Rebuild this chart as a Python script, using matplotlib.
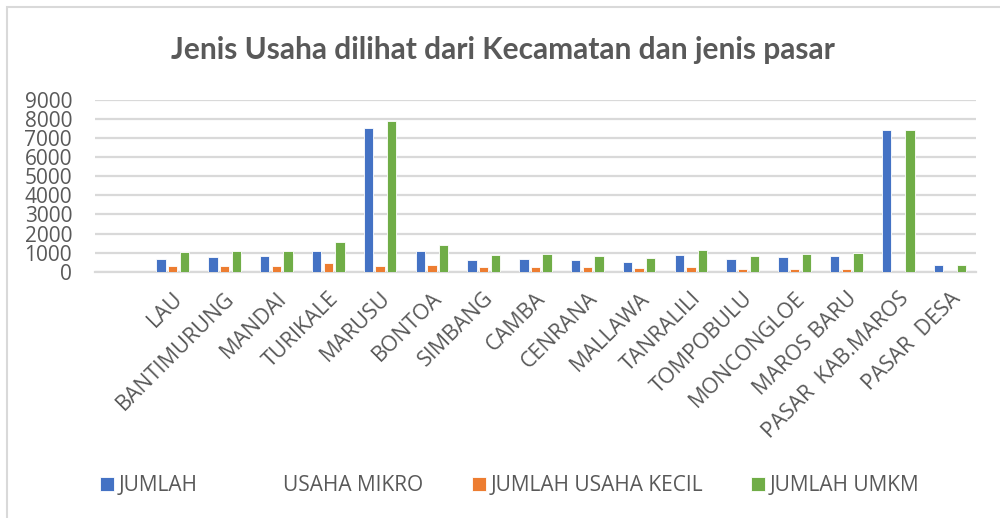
import matplotlib
matplotlib.use("Agg")
import matplotlib.pyplot as plt
import matplotlib.transforms as mtransforms
import numpy as np

# kecamatan / jenis pasar (first slot is left blank)
kategori = ["", "LAU", "BANTIMURUNG", "MANDAI", "TURIKALE", "MARUSU", "BONTOA",
            "SIMBANG", "CAMBA", "CENRANA", "MALLAWA", "TANRALILI", "TOMPOBULU",
            "MONCONGLOE", "MAROS BARU", "PASAR  KAB.MAROS", "PASAR  DESA"]

usaha_mikro = [0, 660, 770, 800, 1065, 7550, 1065, 610, 660, 595, 505, 870,
               660, 770, 840, 7450, 350]
usaha_kecil = [0, 315, 280, 315, 455, 315, 350, 225, 225, 225, 190, 225,
               140, 120, 120, 0, 0]
jumlah_umkm = [0, 1015, 1065, 1085, 1540, 7920, 1400, 875, 910, 820, 735, 1135,
               820, 910, 960, 7450, 350]

seri = ["JUMLAH                USAHA MIKRO", "JUMLAH USAHA KECIL", "JUMLAH UMKM"]
warna = ["#4472C4", "#ED7D31", "#70AD47"]
abu = "#595959"

plt.rcParams["font.family"] = ["Open Sans", "DejaVu Sans"]

fig = plt.figure(figsize=(10, 5.18), dpi=100)
fig.patches.append(plt.Rectangle((0.007, -0.01), 1.1, 0.996, transform=fig.transFigure,
                                 fill=False, edgecolor="#d9d9d9", linewidth=1.5))
ax = fig.add_axes([0.095, 0.4755, 0.881, 0.3315])

x = np.arange(len(kategori))
lebar = 0.18
geser = 0.225
bars = []
for i, (nilai, c) in enumerate(zip([usaha_mikro, usaha_kecil, jumlah_umkm], warna)):
    b = ax.bar(x + (i - 1) * geser, nilai, width=lebar, color=c,
               edgecolor="white", linewidth=0.6, label=seri[i], zorder=3)
    bars.append(b)

ax.set_xlim(-0.5, len(kategori) - 0.5)
ax.set_ylim(0, 9000)
ax.set_yticks(np.arange(0, 9001, 1000))
ax.grid(axis="y", color="#d9d9d9", linewidth=1.6, zorder=0)
for s in ["top", "right", "left"]:
    ax.spines[s].set_visible(False)
ax.spines["bottom"].set_color("#d9d9d9")
ax.spines["bottom"].set_linewidth(1.6)
ax.tick_params(axis="both", length=0, colors=abu)
ax.tick_params(axis="y", pad=16.5, labelsize=15)
ax.set_xticks(x)
ax.set_xticklabels(kategori, rotation=45, ha="right", rotation_mode="anchor",
                   va="center", fontsize=15.5)
ax.tick_params(axis="x", pad=17)
geser_label = mtransforms.ScaledTranslation(0.07, 0, fig.dpi_scale_trans)
for lbl in ax.get_xticklabels():
    lbl.set_transform(lbl.get_transform() + geser_label)

fig.text(0.503, 0.903, "Jenis Usaha dilihat dari Kecamatan dan jenis pasar",
         ha="center", va="center", fontsize=21.5, fontweight="bold", color=abu,
         family=["Lato", "DejaVu Sans"])

leg = fig.legend(handles=bars, labels=seri, loc="center", bbox_to_anchor=(0.51, 0.062),
                 ncol=3, frameon=False, fontsize=15, handlelength=0.65, handleheight=0.65,
                 handletextpad=0.25, columnspacing=2.3)
for t in leg.get_texts():
    t.set_color(abu)

fig.savefig("out.png", dpi=100)
